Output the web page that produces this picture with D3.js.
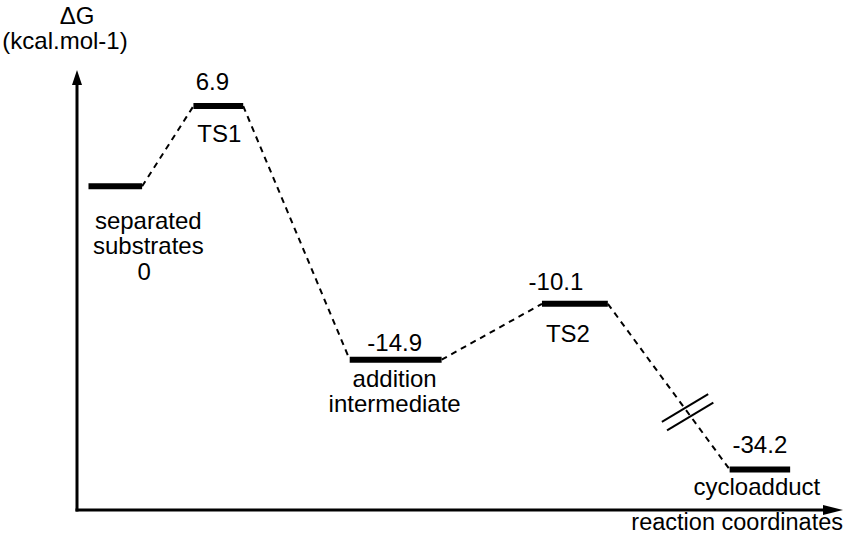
<!DOCTYPE html>
<html>
<head>
<meta charset="utf-8">
<script src="https://cdn.jsdelivr.net/npm/d3@7"></script>
<style>
  html, body { margin: 0; padding: 0; background: #fff; }
  svg { display: block; }
  text { font-family: "Liberation Sans", Arial, Helvetica, sans-serif; fill: #000; }
</style>
</head>
<body>
<svg id="chart" width="848" height="539"></svg>
<script>
// ---- data ----
const states = ["separated substrates", "TS1", "addition intermediate", "TS2", "cycloadduct"];
const nameLines = [["separated", "substrates"], ["TS1"], ["addition", "intermediate"], ["TS2"], ["cycloadduct"]];
const energies = [0, 6.9, -14.9, -10.1, -34.2];
const valueLabels = ["0", "6.9", "-14.9", "-10.1", "-34.2"];
const coordStart = [1.5, 15.2, 35.6, 60.7, 85.2];   // reaction coordinate (arbitrary units)
const coordEnd   = [8.5, 21.7, 47.6, 69.3, 93.1];
const yAxisTitle = ["\u0394G", "(kcal.mol-1)"];
const xAxisTitle = "reaction coordinates";

// ---- layout (label offsets from level centre, px) ----
const labelLayout = [
  { vdx: 29, vdy: 94, ndx: 33, ndy: 43, lh: 25 },
  { vdx: -6, vdy: -16, ndx: 1, ndy: 36, lh: 24 },
  { vdx: -1, vdy: -9, ndx: -1, ndy: 27, lh: 25 },
  { vdx: -19, vdy: -14, ndx: -7, ndy: 38, lh: 24 },
  { vdx: 0, vdy: -16, ndx: -3, ndy: 26, lh: 24 }
];

const svg = d3.select("#chart");
const FS = 24;

const x = d3.scaleLinear().domain([0, 100]).range([77, 843]);
// broken energy axis: compressed below -20 kcal/mol
const y = d3.scaleLinear().domain([-40, -20, 10]).range([490, 419, 70]);

const axisX0 = x(0), axisY0 = 510, axisTop = y(10), axisRight = x(100);

// axes
svg.append("line").attr("x1", axisX0).attr("y1", axisY0 + 1.5).attr("x2", axisX0).attr("y2", axisTop + 12)
  .attr("stroke", "#000").attr("stroke-width", 3);
svg.append("path").attr("d", `M${axisX0},${axisTop} L${axisX0 - 5},${axisTop + 15} L${axisX0 + 5},${axisTop + 15} Z`).attr("fill", "#000");
svg.append("line").attr("x1", axisX0 - 1.5).attr("y1", axisY0).attr("x2", axisRight - 16).attr("y2", axisY0)
  .attr("stroke", "#000").attr("stroke-width", 3);
svg.append("path").attr("d", `M${axisRight},${axisY0} L${axisRight - 20},${axisY0 - 5} L${axisRight - 20},${axisY0 + 5} Z`).attr("fill", "#000");

// axis titles
svg.append("text").attr("x", axisX0).attr("y", 24).attr("text-anchor", "middle").attr("font-size", FS).text(yAxisTitle[0]);
svg.append("text").attr("x", 65).attr("y", 49).attr("text-anchor", "middle").attr("font-size", FS).text(yAxisTitle[1]);
svg.append("text").attr("x", axisRight).attr("y", 530).attr("text-anchor", "end").attr("font-size", 23.5).text(xAxisTitle);

const levels = states.map((s, i) => ({
  name: s, lines: nameLines[i], e: energies[i], label: valueLabels[i],
  x1: x(coordStart[i]), x2: x(coordEnd[i]), yy: y(energies[i]), lay: labelLayout[i]
}));

// dashed connectors
for (let i = 0; i < levels.length - 1; i++) {
  const a = levels[i], b = levels[i + 1];
  svg.append("line").attr("x1", a.x2).attr("y1", a.yy).attr("x2", b.x1).attr("y2", b.yy)
    .attr("stroke", "#000").attr("stroke-width", 2).attr("stroke-dasharray", "6,5");
}

// axis break marks on the last connector
{
  const a = levels[3], b = levels[4];
  const t = 0.655;
  const cx = a.x2 + (b.x1 - a.x2) * t, cy = a.yy + (b.yy - a.yy) * t;
  const ang = -31 * Math.PI / 180;
  const ux = Math.cos(ang), uy = Math.sin(ang);
  const nx = -uy, ny = ux;
  [-5, 5].forEach(o => {
    const mx = cx + nx * o, my = cy + ny * o;
    svg.append("line")
      .attr("x1", mx - ux * 27).attr("y1", my - uy * 27)
      .attr("x2", mx + ux * 27).attr("y2", my + uy * 27)
      .attr("stroke", "#000").attr("stroke-width", 2);
  });
}

// energy levels
svg.selectAll("line.level").data(levels).join("line").attr("class", "level")
  .attr("x1", d => d.x1).attr("x2", d => d.x2)
  .attr("y1", d => d.yy).attr("y2", d => d.yy)
  .attr("stroke", "#000").attr("stroke-width", 6);

// value labels
svg.selectAll("text.val").data(levels).join("text").attr("class", "val")
  .attr("x", d => (d.x1 + d.x2) / 2 + d.lay.vdx)
  .attr("y", d => d.yy + d.lay.vdy)
  .attr("text-anchor", "middle").attr("font-size", FS)
  .text(d => d.label);

// state names
levels.forEach(d => {
  const cxm = (d.x1 + d.x2) / 2 + d.lay.ndx;
  d.lines.forEach((ln, k) => {
    svg.append("text").attr("class", "name")
      .attr("x", cxm).attr("y", d.yy + d.lay.ndy + k * d.lay.lh)
      .attr("text-anchor", "middle").attr("font-size", FS).text(ln);
  });
});
</script>
</body>
</html>
